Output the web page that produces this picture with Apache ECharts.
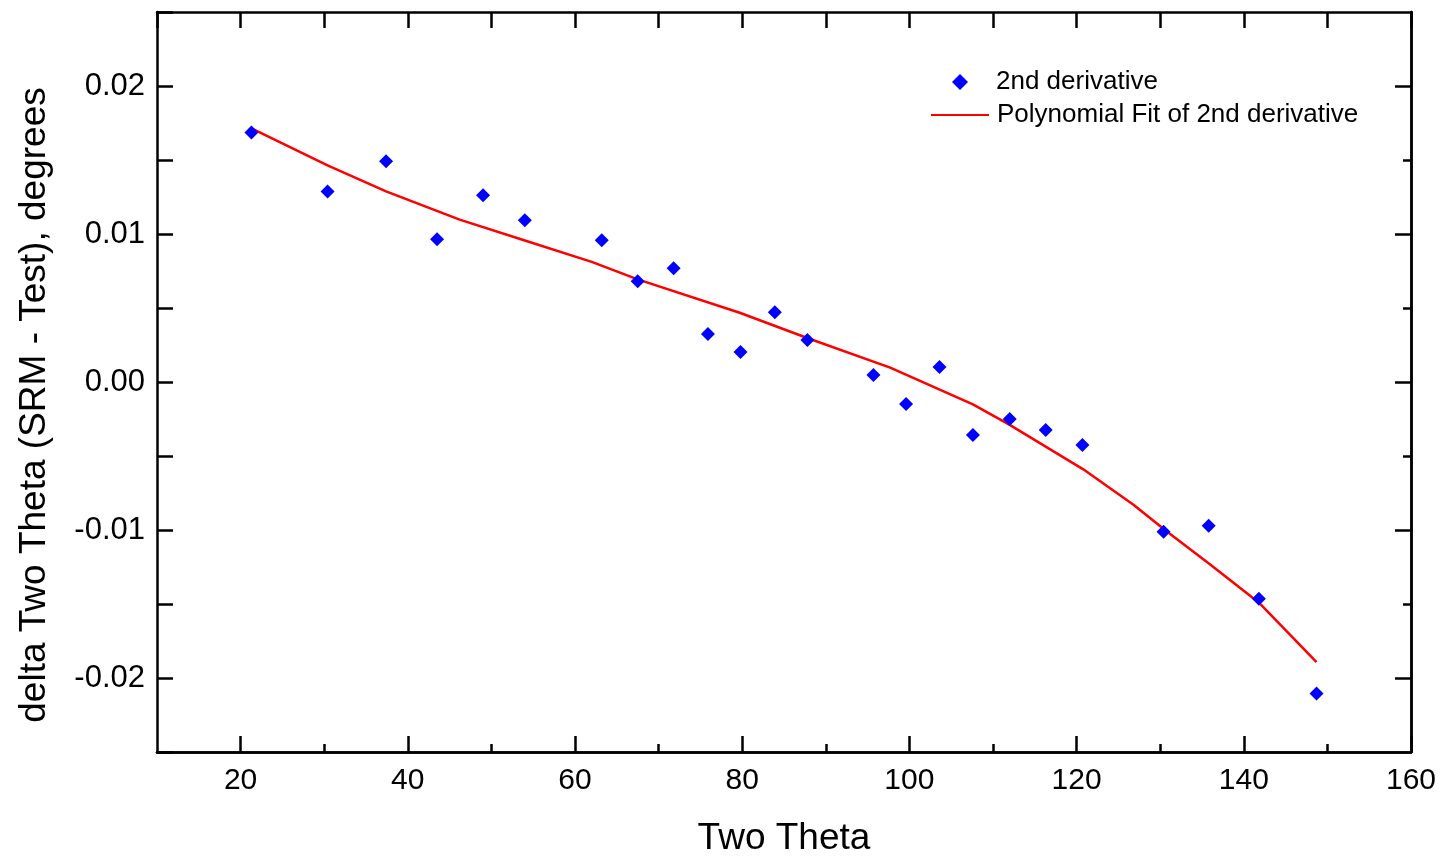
<!DOCTYPE html>
<html>
<head>
<meta charset="utf-8">
<script src="https://cdn.jsdelivr.net/npm/echarts@6/dist/echarts.min.js"></script>
<style>html,body{margin:0;padding:0;background:#fff}#c{width:1441px;height:856px}</style>
</head>
<body>
<div id="c"></div>
<script>
// Data points (2nd derivative)
const pointX = [21.3, 30.4, 37.4, 43.5, 49.0, 54.0, 63.2, 67.5, 71.8, 75.9, 79.8, 83.9, 87.8, 95.7, 99.6, 103.6, 107.6, 112.0, 116.3, 120.7, 130.4, 135.8, 141.8, 148.7];
const pointY = [0.01686, 0.01288, 0.01491, 0.00965, 0.01261, 0.01093, 0.00958, 0.00681, 0.00769, 0.00324, 0.00202, 0.00472, 0.00283, 0.00047, -0.00148, 0.00101, -0.00358, -0.00250, -0.00324, -0.00425, -0.01012, -0.00971, -0.01464, -0.02105];
// Polynomial fit curve
const fitX = [21.3, 30.4, 37.4, 46.2, 54.0, 62.0, 67.5, 79.7, 87.7, 97.7, 107.6, 112.0, 120.8, 126.8, 130.8, 135.9, 141.9, 148.7];
const fitY = [0.01713, 0.01464, 0.01288, 0.01097, 0.00956, 0.00812, 0.00693, 0.00468, 0.00299, 0.00097, -0.00151, -0.00290, -0.00590, -0.00830, -0.01010, -0.01230, -0.01495, -0.01893];
// Tick labels / positions
const xLabelValues = [20, 40, 60, 80, 100, 120, 140, 160];
const xMinorValues = [30, 50, 70, 90, 110, 130, 150];
const yLabelValues = [-0.02, -0.01, 0, 0.01, 0.02];
const yMinorValues = [-0.015, -0.005, 0.005, 0.015];
const seriesNames = ['2nd derivative', 'Polynomial Fit of 2nd derivative'];

const FONT = '"Liberation Sans", Arial, sans-serif';
const lineStyle = {color: '#000', width: 2.5};
const chart = echarts.init(document.getElementById('c'));

function xAx(pos, extra) {
  return Object.assign({
    type: 'value', position: pos, min: 10, max: 160, interval: 10,
    axisLine: {show: true, onZero: false, lineStyle: lineStyle},
    splitLine: {show: false},
    axisLabel: {show: false},
    axisTick: {show: false}
  }, extra);
}
function yAx(pos, extra) {
  return Object.assign({
    type: 'value', position: pos, min: -0.025, max: 0.025, interval: 0.005,
    axisLine: {show: true, onZero: false, lineStyle: lineStyle},
    splitLine: {show: false},
    axisLabel: {show: false},
    axisTick: {show: false}
  }, extra);
}
const legendText = {fontFamily: FONT, fontSize: 26, color: '#000'};

chart.setOption({
  animation: false,
  backgroundColor: '#fff',
  grid: {left: 157, right: 30, top: 12, bottom: 104, containLabel: false, outerBoundsMode: 'none'},
  legend: [
    {
      orient: 'vertical', left: 952, top: 69, padding: 0,
      itemWidth: 16, itemHeight: 16,
      textStyle: Object.assign({padding: [0, 0, 0, 23]}, legendText),
      data: [{name: seriesNames[0], icon: 'diamond'}]
    },
    {
      orient: 'vertical', left: 930, top: 102, padding: 0,
      itemWidth: 58, itemHeight: 14,
      textStyle: Object.assign({padding: [0, 0, 0, 3]}, legendText),
      data: [{name: seriesNames[1], itemStyle: {opacity: 0}}]
    }
  ],
  xAxis: [
    xAx('bottom', {
      name: 'Two Theta', nameLocation: 'middle', nameGap: 68,
      nameTextStyle: {fontFamily: FONT, fontSize: 37, color: '#000'},
      axisLabel: {show: true, customValues: xLabelValues, margin: 14, fontFamily: FONT, fontSize: 30, color: '#000'},
      axisTick: {show: true, inside: true, length: 16, customValues: xLabelValues, lineStyle: lineStyle}
    }),
    xAx('bottom', {
      axisTick: {show: true, inside: true, length: 8, customValues: xMinorValues, lineStyle: lineStyle}
    }),
    xAx('top', {
      axisTick: {show: true, inside: true, length: 16, lineStyle: lineStyle}
    })
  ],
  yAxis: [
    yAx('left', {
      name: 'delta Two Theta (SRM - Test), degrees', nameLocation: 'middle', nameGap: 104,
      nameTextStyle: {fontFamily: FONT, fontSize: 37, color: '#000', padding: [0, 46, 0, 0]},
      axisLabel: {show: true, customValues: yLabelValues, margin: 12, fontFamily: FONT, fontSize: 31, color: '#000',
        formatter: v => Number(v).toFixed(2)},
      axisTick: {show: true, inside: true, length: 16, lineStyle: lineStyle}
    }),
    yAx('right', {
      axisTick: {show: true, inside: true, length: 16, customValues: yLabelValues, lineStyle: lineStyle}
    }),
    yAx('right', {
      axisTick: {show: true, inside: true, length: 8, customValues: yMinorValues, lineStyle: lineStyle}
    })
  ],
  series: [
    {
      name: seriesNames[0], type: 'scatter', xAxisIndex: 0, yAxisIndex: 0,
      symbol: 'diamond', symbolSize: 14,
      itemStyle: {color: '#0000ff', opacity: 1},
      data: pointX.map((x, i) => [x, pointY[i]]),
      z: 3
    },
    {
      name: seriesNames[1], type: 'line', xAxisIndex: 0, yAxisIndex: 0,
      showSymbol: false, symbol: 'none', smooth: false,
      lineStyle: {color: '#ff0000', width: 2.5},
      itemStyle: {color: '#ff0000'},
      data: fitX.map((x, i) => [x, fitY[i]]),
      z: 2
    }
  ]
});
</script>
</body>
</html>
